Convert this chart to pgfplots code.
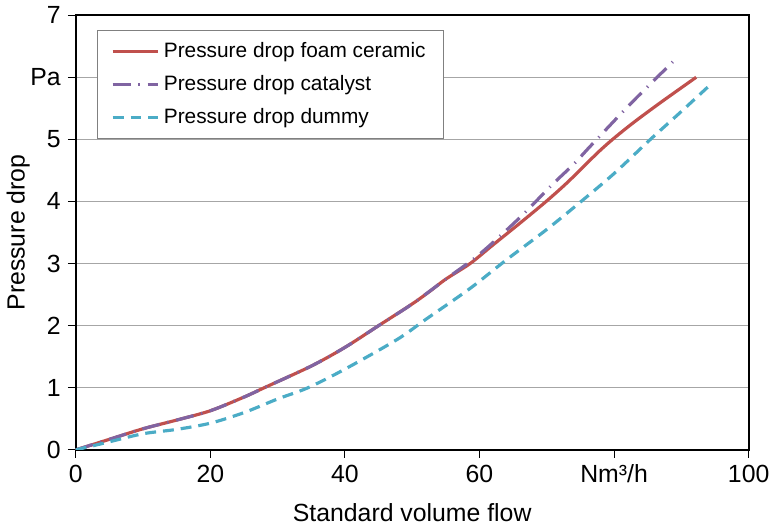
\documentclass[border=0pt]{standalone}
\usepackage{fontspec}
\setmainfont{Liberation Sans}
\usepackage{pgfplots}
\pgfplotsset{compat=1.18}
\definecolor{exred}{HTML}{C0504D}
\definecolor{expurple}{HTML}{8064A2}
\definecolor{excyan}{HTML}{4BACC6}
\begin{document}
\begin{tikzpicture}
\begin{axis}[
  scale only axis,
  width=339pt, height=219pt,
  xmin=0, xmax=100, ymin=0, ymax=7,
  xtick={0,20,40,60,80,100},
  xticklabels={0,20,40,60,Nm³/h,100},
  ytick={0,1,2,3,4,5,6,7},
  yticklabels={0,1,2,3,4,5,Pa,7},
  xtick pos=bottom, ytick pos=left,
  tick align=outside,
  major tick length=4pt,
  tick style={black, line width=0.5pt},
  axis line style={black, line width=1pt},
  ymajorgrids,
  grid style={gray!70, line width=0.5pt},
  ticklabel style={font=\fontsize{12.5}{14}\selectfont},
  /pgf/number format/assume math mode=true,
  xlabel={Standard volume flow},
  ylabel={Pressure drop},
  label style={font=\fontsize{12.5}{14}\selectfont},
  xlabel style={at={(axis description cs:0.5,-0.145)}, anchor=center},
  ylabel style={at={(axis description cs:-0.0855,0.5)}, anchor=center},
  legend style={at={(axis description cs:0.031,0.966)}, anchor=north west,
    draw=gray, line width=0.6pt, font=\fontsize{10.5}{12.5}\selectfont,
    inner xsep=7pt, inner ysep=4pt, row sep=3.5pt},
  legend cell align=left,
  legend image code/.code={\draw[#1] (0pt,0pt) -- (23pt,0pt);},
]
\addplot[exred, line width=1.6pt, smooth] coordinates {
  (0,0) (5,0.17) (10,0.34) (15,0.48) (20,0.63) (25,0.85) (28,1.0) (35,1.35)
  (40,1.65) (45,2.0) (50,2.35) (52.7,2.56) (55,2.75) (58.6,3.0) (62,3.3)
  (66,3.65) (69.9,4.0) (73,4.3) (76,4.62) (78,4.83) (80,5.02) (83,5.28)
  (87,5.6) (92.2,6.0)
};
\addlegendentry{Pressure drop foam ceramic}
\addplot[expurple, line width=1.6pt, smooth, dash pattern=on 9pt off 4pt on 0.6pt off 4pt] coordinates {
  (0,0) (5,0.17) (10,0.34) (15,0.48) (20,0.63) (25,0.85) (28,1.0) (35,1.35)
  (40,1.65) (45,2.0) (50,2.35) (55,2.75) (60,3.15) (65.8,3.72) (70.9,4.28)
  (74,4.6) (76.3,4.87) (81.7,5.49) (85,5.85) (89.5,6.33)
};
\addlegendentry{Pressure drop catalyst}
\addplot[excyan, line width=1.6pt, smooth, dash pattern=on 5.5pt off 3.5pt] coordinates {
  (0,0) (5,0.13) (10,0.26) (15,0.33) (20,0.43) (25,0.6) (30,0.82) (34.5,1.0)
  (40,1.3) (47.8,1.78) (52,2.1) (58.6,2.6) (64,3.06) (70,3.55) (75.1,4.0)
  (80,4.45) (85.4,5.0) (90,5.45) (94.5,5.9)
};
\addlegendentry{Pressure drop dummy}
\end{axis}
\end{tikzpicture}
\end{document}
